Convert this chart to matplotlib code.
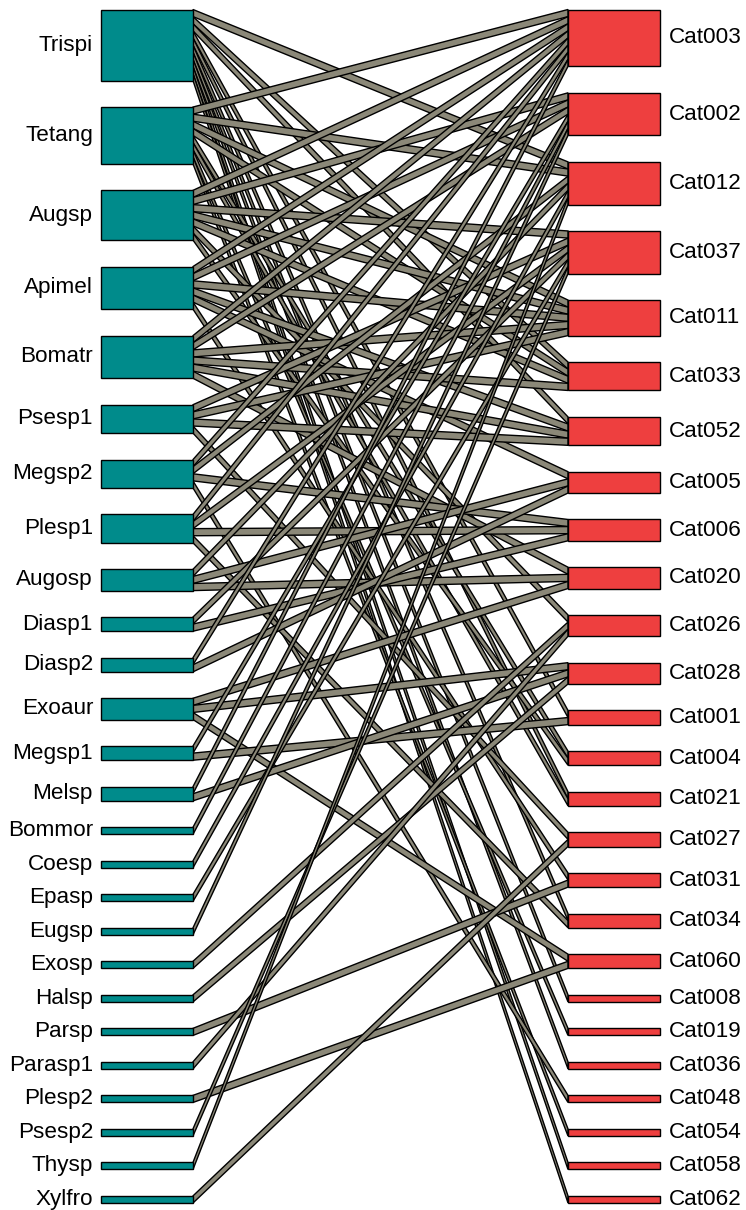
import matplotlib
matplotlib.use("Agg")
import matplotlib.pyplot as plt
from matplotlib.patches import Polygon, Rectangle

# lower level (left column), top to bottom
lower = ["Trispi", "Tetang", "Augsp", "Apimel", "Bomatr", "Psesp1", "Megsp2",
         "Plesp1", "Augosp", "Diasp1", "Diasp2", "Exoaur", "Megsp1", "Melsp",
         "Bommor", "Coesp", "Epasp", "Eugsp", "Exosp", "Halsp", "Parsp",
         "Parasp1", "Plesp2", "Psesp2", "Thysp", "Xylfro"]

# higher level (right column), top to bottom
higher = ["Cat003", "Cat002", "Cat012", "Cat037", "Cat011", "Cat033", "Cat052",
          "Cat005", "Cat006", "Cat020", "Cat026", "Cat028", "Cat001", "Cat004",
          "Cat021", "Cat027", "Cat031", "Cat034", "Cat060", "Cat008", "Cat019",
          "Cat036", "Cat048", "Cat054", "Cat058", "Cat062"]

# observed interactions (lower, higher)
links = [
    ("Trispi", "Cat012"), ("Trispi", "Cat033"), ("Trispi", "Cat052"),
    ("Trispi", "Cat001"), ("Trispi", "Cat021"), ("Trispi", "Cat034"),
    ("Trispi", "Cat008"), ("Trispi", "Cat036"), ("Trispi", "Cat058"),
    ("Trispi", "Cat062"),
    ("Tetang", "Cat003"), ("Tetang", "Cat012"), ("Tetang", "Cat011"),
    ("Tetang", "Cat033"), ("Tetang", "Cat004"), ("Tetang", "Cat021"),
    ("Tetang", "Cat019"), ("Tetang", "Cat054"),
    ("Augsp", "Cat003"), ("Augsp", "Cat002"), ("Augsp", "Cat037"),
    ("Augsp", "Cat011"), ("Augsp", "Cat033"), ("Augsp", "Cat026"),
    ("Augsp", "Cat004"),
    ("Apimel", "Cat003"), ("Apimel", "Cat002"), ("Apimel", "Cat011"),
    ("Apimel", "Cat052"), ("Apimel", "Cat005"), ("Apimel", "Cat031"),
    ("Bomatr", "Cat003"), ("Bomatr", "Cat002"), ("Bomatr", "Cat011"),
    ("Bomatr", "Cat033"), ("Bomatr", "Cat052"), ("Bomatr", "Cat020"),
    ("Psesp1", "Cat037"), ("Psesp1", "Cat011"), ("Psesp1", "Cat052"),
    ("Psesp1", "Cat027"),
    ("Megsp2", "Cat003"), ("Megsp2", "Cat012"), ("Megsp2", "Cat006"),
    ("Megsp2", "Cat048"),
    ("Plesp1", "Cat003"), ("Plesp1", "Cat037"), ("Plesp1", "Cat006"),
    ("Plesp1", "Cat034"),
    ("Augosp", "Cat012"), ("Augosp", "Cat005"), ("Augosp", "Cat020"),
    ("Diasp1", "Cat037"), ("Diasp1", "Cat006"),
    ("Diasp2", "Cat003"), ("Diasp2", "Cat005"),
    ("Exoaur", "Cat020"), ("Exoaur", "Cat028"), ("Exoaur", "Cat060"),
    ("Megsp1", "Cat002"), ("Megsp1", "Cat001"),
    ("Melsp", "Cat003"), ("Melsp", "Cat028"),
    ("Bommor", "Cat002"), ("Coesp", "Cat012"), ("Epasp", "Cat037"),
    ("Eugsp", "Cat002"), ("Exosp", "Cat026"), ("Halsp", "Cat028"),
    ("Parsp", "Cat031"), ("Parasp1", "Cat026"), ("Plesp2", "Cat060"),
    ("Psesp2", "Cat037"), ("Thysp", "Cat012"), ("Xylfro", "Cat027"),
]

col_low = "#008B8B"
col_high = "#EE3F3F"
col_link = "#8B8878"

fig = plt.figure(figsize=(7.46, 12.10), dpi=100)
ax = fig.add_axes([0, 0, 1, 1])
ax.set_xlim(0, 746)
ax.set_ylim(1210, 0)
ax.axis("off")

top, bottom, gap = 9.5, 1203.0, 26.4
unit = (bottom - top - gap * (len(lower) - 1)) / len(links)
xl0, xl1 = 101, 193
xr0, xr1 = 568, 660


def layout(names, side):
    deg = {n: sum(1 for l in links if l[side] == n) for n in names}
    pos = {}
    y = top
    for n in names:
        pos[n] = y
        y += deg[n] * unit + gap
    return pos, deg


pos_l, deg_l = layout(lower, 0)
pos_r, deg_r = layout(higher, 1)

# slot of each link inside its boxes
slot_l, slot_r = {}, {}
for n in lower:
    mine = sorted([l for l in links if l[0] == n], key=lambda l: higher.index(l[1]))
    for k, l in enumerate(mine):
        slot_l[l] = pos_l[n] + k * unit
for n in higher:
    mine = sorted([l for l in links if l[1] == n], key=lambda l: lower.index(l[0]))
    for k, l in enumerate(mine):
        slot_r[l] = pos_r[n] + k * unit

for l in links:
    yl, yr = slot_l[l], slot_r[l]
    poly = Polygon([(xl1, yl), (xr0, yr), (xr0, yr + unit), (xl1, yl + unit)],
                   closed=True, facecolor=col_link, edgecolor="black", lw=1.0)
    ax.add_patch(poly)

for n in lower:
    ax.add_patch(Rectangle((xl0, pos_l[n]), xl1 - xl0, deg_l[n] * unit,
                           facecolor=col_low, edgecolor="black", lw=1.0, zorder=3))
    ax.text(93, pos_l[n] + deg_l[n] * unit / 2, n, ha="right", va="center",
            fontsize=16.2, family="Liberation Sans")
for n in higher:
    ax.add_patch(Rectangle((xr0, pos_r[n]), xr1 - xr0, deg_r[n] * unit,
                           facecolor=col_high, edgecolor="black", lw=1.0, zorder=3))
    ax.text(669, pos_r[n] + deg_r[n] * unit / 2, n, ha="left", va="center",
            fontsize=16.2, family="Liberation Sans")

fig.savefig("out.png", dpi=100)
